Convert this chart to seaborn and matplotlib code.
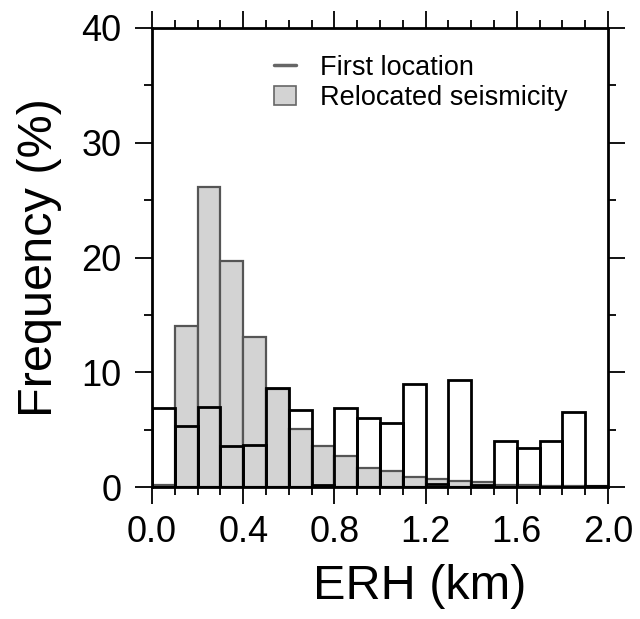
import matplotlib
matplotlib.use('Agg')
import matplotlib.pyplot as plt
import seaborn as sns
import pandas as pd
import numpy as np
from matplotlib.ticker import MultipleLocator
from matplotlib.lines import Line2D
from matplotlib.patches import Patch

# bin edges (km) and bar heights (%)
edges = [0.0, 0.1, 0.2, 0.3, 0.4, 0.5, 0.6, 0.7, 0.8, 0.9, 1.0,
         1.1, 1.2, 1.3, 1.4, 1.5, 1.6, 1.7, 1.8, 1.9, 2.0]
first_loc = [6.9, 5.3, 7.0, 3.6, 3.7, 8.6, 6.7, 0.2, 6.9, 6.0, 5.6,
             9.0, 0.3, 9.3, 0.2, 4.0, 3.4, 4.0, 6.5, 0.1]
relocated = [0.2, 14.0, 26.1, 19.7, 13.1, 8.5, 5.1, 3.6, 2.7, 1.7, 1.4,
             0.9, 0.7, 0.5, 0.4, 0.2, 0.2, 0.1, 0.1, 0.1]
x_ticks = [0.0, 0.4, 0.8, 1.2, 1.6, 2.0]
y_ticks = [0, 10, 20, 30, 40]

centers = [(edges[i] + edges[i + 1]) / 2 for i in range(len(first_loc))]
df = pd.DataFrame(dict(erh=centers, first=first_loc, reloc=relocated))

sns.set_style('ticks')
plt.rcParams['font.family'] = ['Liberation Sans', 'DejaVu Sans']
plt.rcParams['text.color'] = 'black'
plt.rcParams['axes.labelcolor'] = 'black'

fig = plt.figure(figsize=(6.4, 6.19), dpi=100)
ax = fig.add_axes([0.2375, 0.2132, 0.7125, 0.7416])

# gray relocated bars, then the first-location outlines on top
sns.histplot(data=df, x='erh', weights='reloc', bins=edges, ax=ax,
             color='#d3d3d3', edgecolor='#555555', linewidth=1.6, alpha=1)
sns.histplot(data=df, x='erh', weights='first', bins=edges, ax=ax,
             fill=False, color='black', edgecolor='black', linewidth=2.0)

ax.set_xlim(0, 2.0)
ax.set_ylim(0, 40)
ax.set_xticks(x_ticks)
ax.set_xticklabels([f'{v:.1f}' for v in x_ticks])
ax.set_yticks(y_ticks)
ax.xaxis.set_minor_locator(MultipleLocator(0.1))
ax.yaxis.set_minor_locator(MultipleLocator(5))
ax.tick_params(which='both', direction='out', top=True, right=True,
               width=1.3, colors='black', labelsize=26)
ax.tick_params(which='major', length=12, pad=10)
ax.tick_params(which='minor', length=6)
ax.tick_params(axis='x', which='major', pad=8)
for s in ax.spines.values():
    s.set_linewidth(2.0)
    s.set_color('black')

ax.set_xlabel('ERH (km)', fontsize=35)
ax.set_ylabel('Frequency (%)', fontsize=35)
ax.xaxis.set_label_coords(0.588, -0.168)
ax.yaxis.set_label_coords(-0.197, 0.5)

handles = [Line2D([0], [0], color='#666666', lw=2.5),
           Patch(facecolor='#d3d3d3', edgecolor='#666666', linewidth=1.2)]
ax.legend(handles, ['First location', 'Relocated seismicity'],
          loc='upper left', bbox_to_anchor=(0.215, 0.995), frameon=False,
          fontsize=19.5, handlelength=0.8, handletextpad=0.9, labelspacing=0.15)

fig.savefig('out.png', dpi=100)
